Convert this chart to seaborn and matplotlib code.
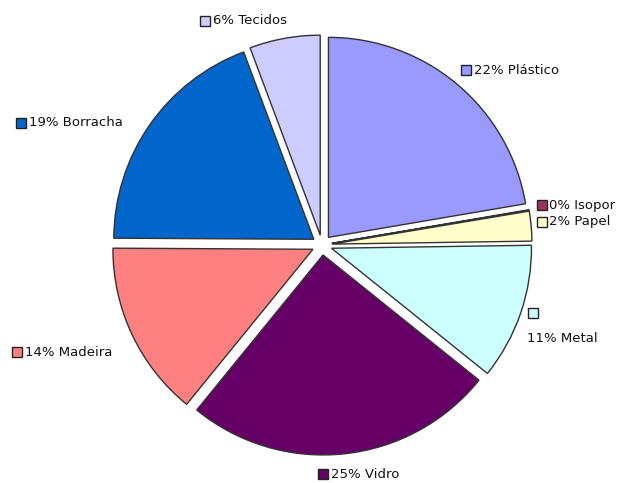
import numpy as np
import seaborn as sns
import matplotlib.pyplot as plt

# dados (fatias no sentido horário a partir do topo)
categorias = ["Plástico", "Isopor", "Papel", "Metal", "Vidro", "Madeira", "Borracha", "Tecidos"]
valores = [22.3, 0.05, 2.4, 11.0, 25.1, 14.2, 19.2, 5.7]
cores = ["#9999FF", "#993366", "#FFFFCC", "#CCFFFF", "#660066", "#FF8080", "#0066CC", "#CCCCFF"]

# posição dos rótulos (pixels: marcador x, y, texto x, y)
pos_rotulos = [
    (466, 70, 474, 70),
    (542, 205, 549, 205),
    (542, 222, 549, 222),
    (533, 313, 527, 338),
    (323, 474, 331, 474),
    (17, 352, 25, 352),
    (21, 123, 29, 123),
    (205, 21, 213, 21),
]

sns.set_style("white")
plt.rcParams["font.family"] = ["DejaVu Sans"]

W, H = 629, 483
fig = plt.figure(figsize=(W / 100, H / 100), dpi=100)
ax = fig.add_axes([0, 0, 1, 1])

escala = 200.0  # pixels por unidade de raio
cx, cy = 322, 245
ax.pie(valores, colors=cores, startangle=90, counterclock=False,
       explode=[0.05] * len(valores),
       wedgeprops=dict(edgecolor="#333333", linewidth=1.0))
ax.set_aspect("auto")
ax.set_xlim(-cx / escala, (W - cx) / escala)
ax.set_ylim(-(H - cy) / escala, cy / escala)
ax.axis("off")

total = sum(valores)
for nome, v, cor, (mx, my, tx, ty) in zip(categorias, valores, cores, pos_rotulos):
    pct = int(round(v / total * 100))
    fig.add_artist(plt.Line2D([mx / W], [1 - my / H], marker="s", markersize=6.5,
                              markerfacecolor=cor, markeredgecolor="#222222",
                              markeredgewidth=1.0, transform=fig.transFigure))
    fig.text(tx / W, 1 - ty / H, f"{pct}% {nome}", fontsize=9.5,
             ha="left", va="center", color="#111111")

fig.savefig("out.png", dpi=100, facecolor="white")
